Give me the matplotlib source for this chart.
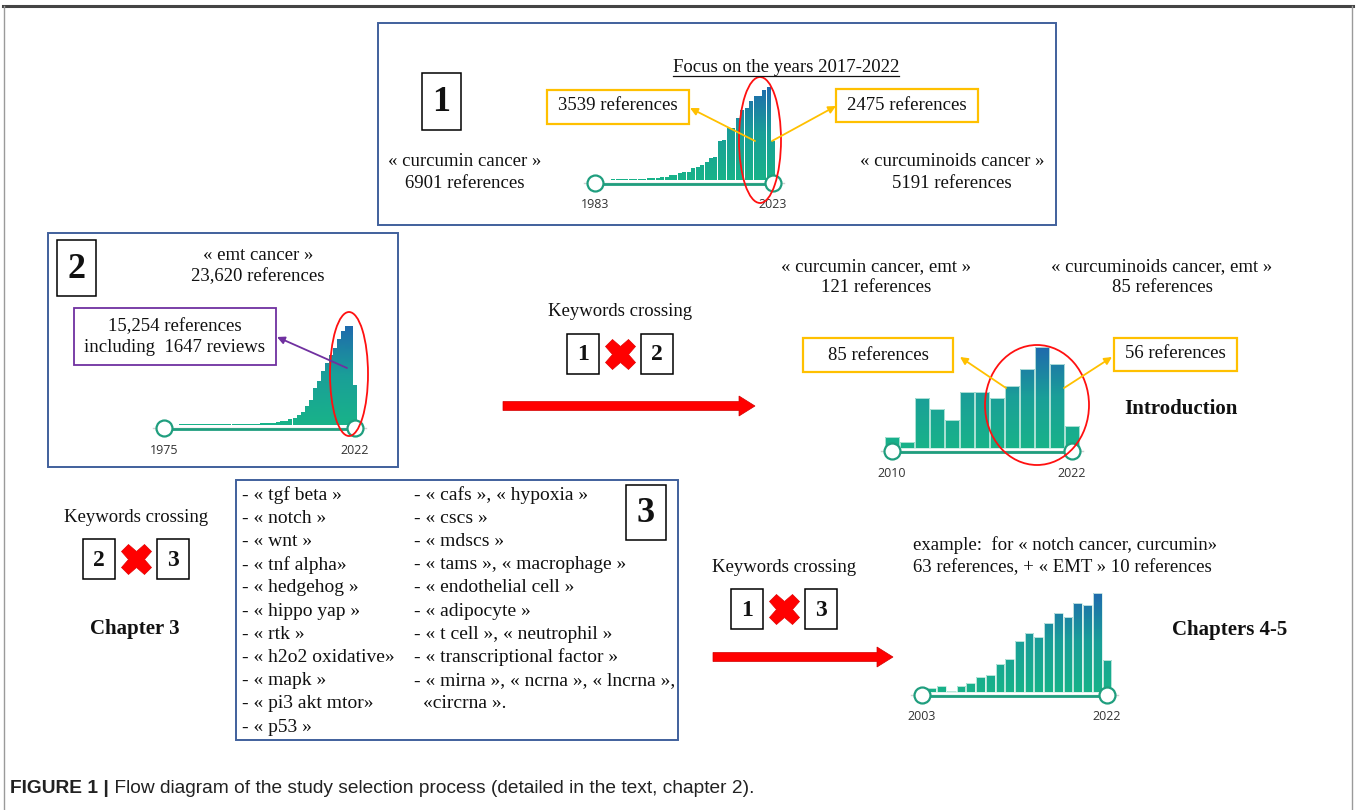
import matplotlib
matplotlib.use("Agg")
import matplotlib.pyplot as plt
import numpy as np
from matplotlib.patches import Rectangle, Ellipse, FancyArrow
from matplotlib.colors import LinearSegmentedColormap

W, H = 1356, 810
SERIF = "Liberation Serif"

# references per year
years_cur = list(range(1983, 2024))
refs_cur = [2, 2, 3, 3, 4, 4, 5, 5, 6, 6,
            8, 10, 12, 14, 14, 22, 24, 36, 36, 50,
            55, 60, 84, 96, 108, 132, 156, 163, 281, 288,
            372, 372, 444, 504, 516, 564, 605, 605, 648, 667,
            280]
years_emt = list(range(1975, 2023))
refs_emt = [12, 12, 13, 13, 14, 14, 15, 15, 16, 16,
            17, 17, 18, 18, 19, 20, 21, 22, 24, 26,
            28, 30, 33, 36, 40, 45, 55, 66, 80, 97,
            115, 150, 195, 265, 350, 510, 660, 985, 1160, 1425,
            1630, 1865, 2050, 2270, 2480, 2620, 2620, 1055]
years_cur_emt = list(range(2010, 2023))
refs_cur_emt = [2, 1, 9, 7, 5, 10, 10, 9, 11, 14, 18, 15, 4]
years_notch = list(range(2003, 2023))
refs_notch = [2, 4, 6, 1, 6, 9, 15, 17, 28, 33, 52, 60, 56, 70, 80, 76, 90, 88, 100, 32]

keywords_left = ["- « tgf beta »", "- « notch »", "- « wnt »", "- « tnf alpha»", "- « hedgehog »",
                 "- « hippo yap »", "- « rtk »", "- « h2o2 oxidative»", "- « mapk »",
                 "- « pi3 akt mtor»", "- « p53 »"]
keywords_right = ["- « cafs », « hypoxia »", "- « cscs »", "- « mdscs »", "- « tams », « macrophage »",
                  "- « endothelial cell »", "- « adipocyte »", "- « t cell », « neutrophil »",
                  "- « transcriptional factor »", "- « mirna », « ncrna », « lncrna »,"]
keywords_last = "«circrna »."

fig = plt.figure(figsize=(W / 100, H / 100), dpi=100)
ax = fig.add_axes([0, 0, 1, 1])
ax.set_xlim(0, W)
ax.set_ylim(H, 0)
ax.axis("off")
ax.set_zorder(10)

cmap = LinearSegmentedColormap.from_list("bars", ["#18b389", "#1a9f98", "#1f6aad"])
TEAL = "#1f9e7e"


def histogram(years, refs, xl, xr, yb, yt, width, edge):
    # xl/xr: pixel x of first/last bar, yb: baseline pixel, yt: pixel of the tallest bar
    dx = (xr - xl) / (years[-1] - years[0])
    top = max(refs)
    dy = (yb - yt) / top
    x0, x1 = xl - 16, xr + 16
    y0, y1 = yt - 2, yb + 14
    h = fig.add_axes([x0 / W, 1 - y1 / H, (x1 - x0) / W, (y1 - y0) / H])
    h.axis("off")
    bars = h.bar(years, refs, width=width, color="none", edgecolor=edge, linewidth=0.6, zorder=2)
    grad = np.linspace(0, 1, 256).reshape(-1, 1)
    for b in bars:
        im = h.imshow(grad, extent=(years[0] - 1, years[-1] + 1, 0, top), origin="lower",
                      aspect="auto", cmap=cmap, zorder=1)
        im.set_clip_path(b)
    ys = -3 / dy
    h.plot([years[0] - 11 / dx, years[-1] + 11 / dx], [ys, ys], color="#cfcfcf", lw=1.0, zorder=3)
    h.plot([years[0], years[-1]], [ys - 1 / dy, ys - 1 / dy], color=TEAL, lw=2.0, zorder=3,
           solid_capstyle="butt")
    h.plot([years[0], years[-1]], [ys, ys], "o", ms=11.5, mfc="white", mec=TEAL, mew=1.6,
           zorder=5, clip_on=False)
    for yr in (years[0], years[-1]):
        h.annotate(str(yr), (yr, 0), xytext=(0, -25), textcoords="offset pixels", ha="center",
                   va="center", fontsize=9, family="Open Sans", color="#333333",
                   annotation_clip=False)
    h.set_xlim(years[0] - 16 / dx, years[-1] + 16 / dx)
    h.set_ylim(-14 / dy, top + 2 / dy)


histogram(years_cur, refs_cur, 595, 773, 180, 87, 0.75, "none")
histogram(years_emt, refs_emt, 164, 355, 425, 326, 0.75, "none")
histogram(years_cur_emt, refs_cur_emt, 892, 1072, 448, 347, 0.97, "#c4ebe0")
histogram(years_notch, refs_notch, 922, 1107, 692, 593, 0.9, "#d6f0e8")


def rect(x0, y0, x1, y1, color, lw=1.3):
    ax.add_patch(Rectangle((x0, y0), x1 - x0, y1 - y0, fill=False, ec=color, lw=lw))


def label(x, y, s, size=13.5, weight="normal", ha="center"):
    return ax.text(x, y, s, ha=ha, va="center", fontsize=size, family=SERIF, fontweight=weight,
                   color="#111111")


def numbox(x0, y0, x1, y1, s, size):
    rect(x0, y0, x1, y1, "black", 1.1)
    label((x0 + x1) / 2, (y0 + y1) / 2 + 1, s, size=size, weight="bold")


def crossing(cx, cy_text, a, b):
    label(cx, cy_text, "Keywords crossing")
    yb = cy_text + 22
    numbox(cx - 53, yb, cx - 21, yb + 40, a, 17)
    numbox(cx + 21, yb, cx + 53, yb + 40, b, 17)
    ax.plot(cx, yb + 20, marker="X", ms=22, color="#ff0000", mec="#e00000", mew=0.5)


def arrow(x0, y0, x1, y1, color):
    ax.annotate("", xy=(x1, y1), xytext=(x0, y0),
                arrowprops=dict(arrowstyle="-|>", color=color, lw=1.3, mutation_scale=11,
                                shrinkA=0, shrinkB=0))


BLUE = "#40609c"
ORANGE = "#ffc000"
PURPLE = "#7030a0"

# outer frame
ax.plot([3, 1353], [6, 6], color="#444444", lw=2.2)
ax.plot([4, 4], [6, 810], color="#9a9a9a", lw=1.0)
ax.plot([1352, 1352], [6, 810], color="#9a9a9a", lw=1.0)

# block 1
rect(378, 23, 1056, 225, BLUE, 1.4)
numbox(422, 73, 461, 130, "1", 26)
label(465, 162, "« curcumin cancer »")
label(465, 183, "6901 references")
label(952, 162, "« curcuminoids cancer »")
label(952, 183, "5191 references")
focus = label(786, 67, "Focus on the years 2017-2022")
rect(547, 90, 689, 124, ORANGE, 1.6)
label(618, 106, "3539 references")
rect(836, 89, 978, 122, ORANGE, 1.6)
label(907, 105, "2475 references")
ax.add_patch(Ellipse((760, 140), 42, 126, fill=False, ec="#ff1010", lw=1.3))
arrow(755, 141, 690, 108, ORANGE)
arrow(772, 141, 836, 106, ORANGE)

# block 2
rect(48, 233, 398, 467, BLUE, 1.4)
numbox(57, 240, 96, 296, "2", 26)
label(258, 255, "« emt cancer »")
label(258, 277, "23,620 references")
rect(74, 308, 276, 365, PURPLE, 1.3)
label(175, 327, "15,254 references")
label(175, 348, "including  1647 reviews")
ax.add_patch(Ellipse((349, 374), 38, 124, fill=False, ec="#ff1010", lw=1.3))
arrow(347, 368, 277, 337, PURPLE)

# crossing 1 x 2 -> introduction
crossing(620, 312, "1", "2")
ax.add_patch(FancyArrow(503, 406, 252, 0, width=9, head_width=20, head_length=16,
                        length_includes_head=True, fc="#ff0000", ec="#d00000", lw=0.5))
label(876, 267, "« curcumin cancer, emt »")
label(876, 288, "121 references")
label(1162, 267, "« curcuminoids cancer, emt »")
label(1162, 288, "85 references")
rect(803, 338, 953, 372, ORANGE, 1.6)
label(878, 355, "85 references")
rect(1114, 338, 1237, 371, ORANGE, 1.6)
label(1175, 354, "56 references")
ax.add_patch(Ellipse((1037, 405), 104, 120, fill=False, ec="#ff1010", lw=1.3))
arrow(1006, 388, 960, 357, ORANGE)
arrow(1064, 388, 1112, 357, ORANGE)
label(1181, 409, "Introduction", size=15, weight="bold")

# crossing 2 x 3 -> chapter 3
crossing(136, 517, "2", "3")
label(135, 629, "Chapter 3", size=15, weight="bold")

# block 3
rect(236, 480, 678, 740, BLUE, 1.4)
numbox(626, 485, 666, 540, "3", 26)
for i, s in enumerate(keywords_left):
    label(242, 495 + 23.2 * i, s, size=14, ha="left")
for i, s in enumerate(keywords_right):
    label(414, 495 + 23.2 * i, s, size=14, ha="left")
label(423, 495 + 23.2 * len(keywords_right), keywords_last, size=14, ha="left")

# crossing 1 x 3 -> chapters 4-5
crossing(784, 567, "1", "3")
ax.add_patch(FancyArrow(713, 657, 180, 0, width=9, head_width=20, head_length=16,
                        length_includes_head=True, fc="#ff0000", ec="#d00000", lw=0.5))
label(913, 545, "example:  for « notch cancer, curcumin»", ha="left")
label(913, 568, "63 references, + « EMT » 10 references", ha="left")
label(1230, 630, "Chapters 4-5", size=15, weight="bold")

# caption
cap = ax.text(10, 793, "FIGURE 1 |", fontsize=13.8, family="Liberation Sans", fontweight="bold",
              va="baseline", ha="left", color="#222222")
ax.annotate(" Flow diagram of the study selection process (detailed in the text, chapter 2).",
            xy=(1, 793), xycoords=(cap, "data"), va="baseline", ha="left", fontsize=13.8,
            family="Liberation Sans", color="#222222")

# underline for the focus title
fig.canvas.draw()
bb = focus.get_window_extent().transformed(ax.transData.inverted())
ax.plot([bb.x0, bb.x1], [76, 76], color="#111111", lw=0.9)

fig.savefig("out.png", dpi=100)
